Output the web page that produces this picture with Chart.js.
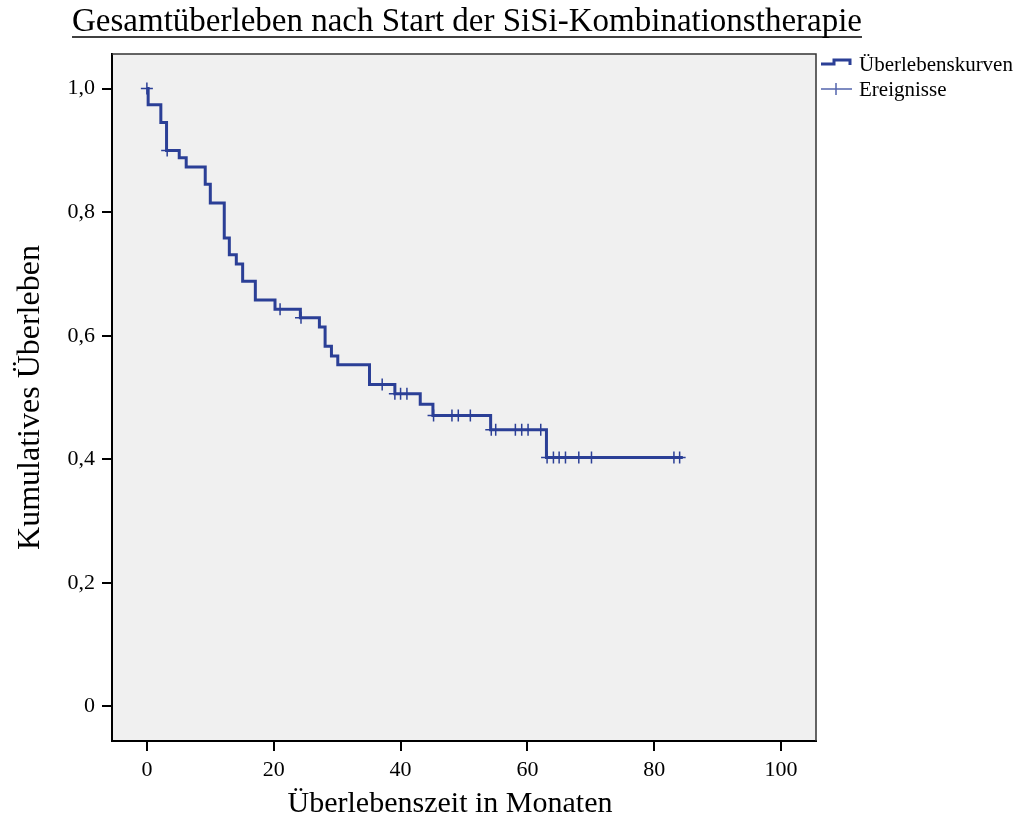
<!DOCTYPE html>
<html>
<head>
<meta charset="utf-8">
<script src="https://cdn.jsdelivr.net/npm/chart.js@4/dist/chart.umd.min.js"></script>
<style>
  html, body { margin: 0; padding: 0; background: #fff; }
</style>
</head>
<body>
<canvas id="kmChart" width="1015" height="821"></canvas>
<script>
// Kaplan-Meier Kurve: Stufen (Monate / kumulatives Überleben)
const zeiten = [0, 0.2, 2.2, 3.1, 5.1, 6.2, 9.2, 10.0, 12.2, 13.0, 14.1, 15.1, 17.1, 20.2, 24.2, 27.2, 28.1, 29.1, 30.1, 35.1, 39.1, 43.1, 45.1, 54.2, 63.0, 84.5];
const ueberleben = [1.0, 0.974, 0.945, 0.900, 0.888, 0.873, 0.845, 0.815, 0.758, 0.731, 0.716, 0.688, 0.658, 0.643, 0.629, 0.614, 0.583, 0.567, 0.553, 0.521, 0.506, 0.489, 0.471, 0.448, 0.403, 0.403];

// zensierte Fälle (Kreuze)
const zensZeiten = [0, 3.2, 21, 24.3, 37.1, 39.1, 40, 41, 45.2, 48.1, 49.1, 51, 54.3, 55, 58.1, 59.1, 60.1, 62.1, 63.1, 64.1, 65, 66, 68.1, 70.1, 83.1, 84];
const zensWerte = [1.0, 0.900, 0.643, 0.629, 0.521, 0.506, 0.506, 0.506, 0.471, 0.471, 0.471, 0.471, 0.448, 0.448, 0.448, 0.448, 0.448, 0.448, 0.403, 0.403, 0.403, 0.403, 0.403, 0.403, 0.403, 0.403];

const xTicks = [0, 20, 40, 60, 80, 100];
const yTicks = [0, 0.2, 0.4, 0.6, 0.8, 1.0];
const yLabels = ['0', '0,2', '0,4', '0,6', '0,8', '1,0'];

const blau = '#2b3f96';
const serif = 'Liberation Serif';

// Hintergrund, Rahmen, Titel, x-Achsentitel und Legende
const extras = {
  id: 'extras',
  beforeDraw(chart) {
    const {ctx, chartArea: a} = chart;
    ctx.save();
    ctx.fillStyle = '#f0f0f0';
    ctx.fillRect(a.left, a.top, a.right - a.left, a.bottom - a.top);
    ctx.restore();
  },
  afterDraw(chart) {
    const {ctx, chartArea: a} = chart;
    ctx.save();
    // oberer + rechter Rand
    ctx.strokeStyle = '#333';
    ctx.lineWidth = 1.5;
    ctx.beginPath();
    ctx.moveTo(a.left, a.top);
    ctx.lineTo(a.right, a.top);
    ctx.lineTo(a.right, a.bottom);
    ctx.stroke();

    // Titel unterstrichen
    ctx.fillStyle = '#000';
    ctx.font = '33px "' + serif + '"';
    ctx.textAlign = 'center';
    ctx.textBaseline = 'alphabetic';
    const titel = 'Gesamtüberleben nach Start der SiSi-Kombinationstherapie';
    const tx = 467, ty = 31;
    ctx.fillText(titel, tx, ty);
    const w = ctx.measureText(titel).width;
    ctx.strokeStyle = '#000';
    ctx.lineWidth = 1.5;
    ctx.beginPath();
    ctx.moveTo(tx - w / 2, 37);
    ctx.lineTo(tx + w / 2, 37);
    ctx.stroke();

    // x-Achsentitel (im Original leicht nach links versetzt)
    ctx.font = '30px "' + serif + '"';
    ctx.textBaseline = 'middle';
    ctx.fillText('Überlebenszeit in Monaten', 450, 804);

    // Legende
    ctx.strokeStyle = blau;
    ctx.lineWidth = 3;
    ctx.beginPath();
    ctx.moveTo(821, 64);
    ctx.lineTo(834, 64);
    ctx.lineTo(834, 60);
    ctx.lineTo(850, 60);
    ctx.lineTo(850, 65);
    ctx.stroke();
    ctx.strokeStyle = '#5465ad';
    ctx.lineWidth = 1.5;
    ctx.beginPath();
    ctx.moveTo(821, 89);
    ctx.lineTo(852, 89);
    ctx.moveTo(836, 83);
    ctx.lineTo(836, 95);
    ctx.stroke();
    ctx.fillStyle = '#000';
    ctx.font = '21px "' + serif + '"';
    ctx.textAlign = 'left';
    ctx.textBaseline = 'middle';
    ctx.fillText('Überlebenskurven', 859, 65);
    ctx.fillText('Ereignisse', 859, 90);
    ctx.restore();
  }
};

const kurve = new Chart(document.getElementById('kmChart'), {
  type: 'line',
  data: {
    datasets: [{
      label: 'Überlebenskurven',
      data: zeiten.map((t, i) => ({x: t, y: ueberleben[i]})),
      stepped: true,
      borderColor: blau,
      borderWidth: 3,
      pointRadius: 0,
      fill: false
    }, {
      label: 'Ereignisse',
      data: zensZeiten.map((t, i) => ({x: t, y: zensWerte[i]})),
      showLine: false,
      pointStyle: 'cross',
      pointRadius: 6,
      pointBorderWidth: 1.5,
      pointBorderColor: blau,
      borderColor: blau
    }]
  },
  options: {
    responsive: false,
    animation: false,
    layout: {
      padding: { top: 54, right: 199, bottom: 0, left: 0 }
    },
    plugins: {
      legend: { display: false },
      title: { display: false },
      tooltip: { enabled: false }
    },
    scales: {
      x: {
        type: 'linear',
        min: -5.5,
        max: 105.5,
        afterFit: s => { s.height = 80; },
        afterBuildTicks: s => { s.ticks = xTicks.map(v => ({value: v})); },
        grid: { drawOnChartArea: false, drawTicks: true, tickLength: 10, color: '#000', lineWidth: 2 },
        border: { display: true, color: '#000', width: 2 },
        ticks: {
          color: '#000',
          padding: 6,
          maxRotation: 0,
          font: { family: serif, size: 22 }
        },
        title: { display: false }
      },
      y: {
        type: 'linear',
        min: -0.056,
        max: 1.056,
        afterFit: s => { s.width = 112; },
        afterBuildTicks: s => { s.ticks = yTicks.map(v => ({value: v})); },
        grid: { drawOnChartArea: false, drawTicks: true, tickLength: 10, color: '#000', lineWidth: 2 },
        border: { display: true, color: '#000', width: 2 },
        ticks: {
          color: '#000',
          padding: 7,
          font: { family: serif, size: 22 },
          callback: (v) => {
            const i = yTicks.findIndex(t => Math.abs(t - v) < 1e-6);
            return i >= 0 ? yLabels[i] : '';
          }
        },
        title: {
          display: true,
          text: 'Kumulatives Überleben',
          color: '#000',
          font: { family: serif, size: 32 },
          padding: { top: 11, bottom: 0 }
        }
      }
    }
  },
  plugins: [extras]
});
</script>
</body>
</html>
